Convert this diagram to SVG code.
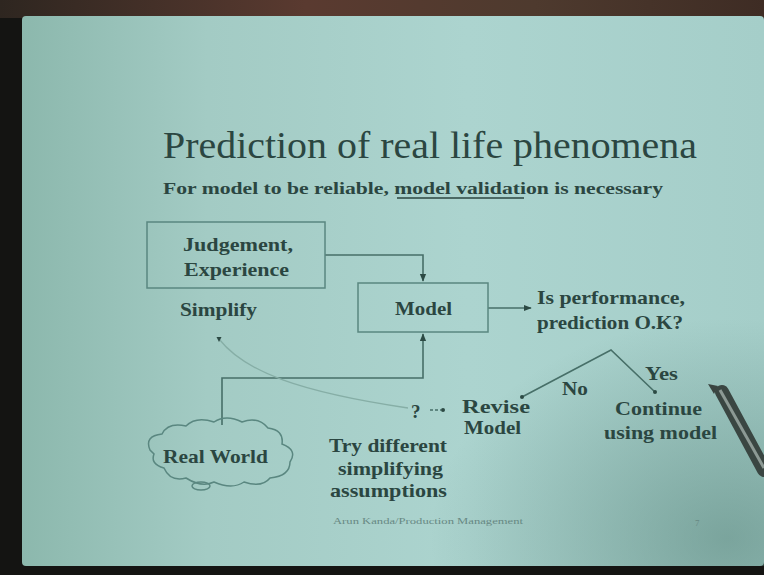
<svg xmlns="http://www.w3.org/2000/svg" width="764" height="575" viewBox="0 0 764 575">
<defs>
<linearGradient id="bg" x1="0" y1="0" x2="1" y2="0">
<stop offset="0" stop-color="#8cb8ad"/>
<stop offset="0.25" stop-color="#a3cbc4"/>
<stop offset="0.6" stop-color="#acd4cf"/>
<stop offset="1" stop-color="#a5cec9"/>
</linearGradient>
<radialGradient id="shade" cx="0.95" cy="0.95" r="0.4">
<stop offset="0" stop-color="#4f7a70" stop-opacity="0.5"/>
<stop offset="1" stop-color="#4f7a70" stop-opacity="0"/>
</radialGradient>
<linearGradient id="top" x1="0" y1="0" x2="1" y2="0">
<stop offset="0" stop-color="#2e2620"/>
<stop offset="0.4" stop-color="#5a3a30"/>
<stop offset="0.7" stop-color="#4e3a2e"/>
<stop offset="1" stop-color="#3e2c24"/>
</linearGradient>
<marker id="ah" viewBox="0 0 10 10" refX="9" refY="5" markerWidth="5" markerHeight="5" orient="auto">
<path d="M0,1 L10,5 L0,9 Z" fill="#2c4a44"/>
</marker>
<style>
text{font-family:"Liberation Serif","Times New Roman",serif;fill:#2b4641}
.b{font-weight:bold;font-size:19px}
.ln{fill:none;stroke:#476f68;stroke-width:1.6}
.bx{fill:none;stroke:#5a8780;stroke-width:1.5}
</style>
</defs>
<rect width="764" height="575" fill="#141412"/>
<rect x="0" y="0" width="764" height="18" fill="url(#top)"/>
<rect x="22" y="16" width="742" height="550" rx="4" fill="url(#bg)"/>
<rect x="22" y="16" width="742" height="550" fill="url(#shade)"/>

<text x="163" y="158" font-size="38" textLength="534" lengthAdjust="spacingAndGlyphs">Prediction of real life phenomena</text>
<text x="163" y="194" font-weight="bold" font-size="17" textLength="500" lengthAdjust="spacingAndGlyphs">For model to be reliable, model validation is necessary</text>
<line x1="397" y1="198" x2="524" y2="198" stroke="#2b4641" stroke-width="1.3"/>

<g id="connectors">
<polyline class="ln" points="325,255 423,255 423,281" marker-end="url(#ah)"/>
<polyline class="ln" points="222,425 222,378 423,378 423,334" marker-end="url(#ah)"/>
<line class="ln" x1="488" y1="308" x2="531" y2="308" marker-end="url(#ah)"/>
<polyline class="ln" points="522,397 611,350 655,392"/>
<circle cx="522" cy="397" r="2" fill="#2c4a44"/>
<circle cx="655" cy="392" r="2" fill="#2c4a44"/>
<path d="M219,339 C245,372 300,392 408,408" fill="none" stroke="#86aea6" stroke-width="1.3"/>
<line class="ln" x1="430" y1="410" x2="441" y2="410" stroke-dasharray="3,2"/>
<circle cx="443" cy="410" r="2" fill="#2c4a44"/>
<path d="M219,342 l-2.5,-5 l5,0 Z" fill="#2c4a44"/>
</g>

<g id="judgement">
<rect class="bx" x="147" y="222" width="178" height="66"/>
<text class="b" x="183" y="251" textLength="110" lengthAdjust="spacingAndGlyphs">Judgement,</text>
<text class="b" x="184" y="276" textLength="105" lengthAdjust="spacingAndGlyphs">Experience</text>
</g>
<g id="model">
<rect class="bx" x="358" y="283" width="130" height="49"/>
<text class="b" x="395" y="315" textLength="57" lengthAdjust="spacingAndGlyphs">Model</text>
</g>
<g id="simplify">
<text class="b" x="180" y="316" textLength="77" lengthAdjust="spacingAndGlyphs">Simplify</text>
</g>
<g id="realworld">
<path class="bx" d="M150,450 q-6,-14 12,-16 q6,-12 24,-8 q10,-10 28,-4 q12,-8 28,0 q16,-6 26,6 q16,2 14,16 q16,6 8,18 q0,14 -20,16 q-8,10 -26,4 q-12,8 -30,0 q-12,6 -28,-4 q-16,4 -22,-10 q-14,-4 -10,-14 z"/>
<ellipse class="bx" cx="201" cy="486" rx="9" ry="4"/>
<text class="b" x="163" y="463" textLength="105" lengthAdjust="spacingAndGlyphs">Real World</text>
</g>
<g id="question">
<text class="b" x="411" y="418">?</text>
</g>
<g id="revise">
<text class="b" x="462" y="413" textLength="68" lengthAdjust="spacingAndGlyphs">Revise</text>
<text class="b" x="464" y="434" textLength="57" lengthAdjust="spacingAndGlyphs">Model</text>
</g>
<g id="try">
<text class="b" x="329" y="452" textLength="118" lengthAdjust="spacingAndGlyphs">Try different</text>
<text class="b" x="338" y="475" textLength="105" lengthAdjust="spacingAndGlyphs">simplifying</text>
<text class="b" x="330" y="497" textLength="117" lengthAdjust="spacingAndGlyphs">assumptions</text>
</g>
<g id="performance">
<text class="b" x="537" y="304" textLength="148" lengthAdjust="spacingAndGlyphs">Is performance,</text>
<text class="b" x="537" y="329" textLength="146" lengthAdjust="spacingAndGlyphs">prediction O.K?</text>
</g>
<g id="labels">
<text class="b" x="562" y="395" textLength="26" lengthAdjust="spacingAndGlyphs">No</text>
<text class="b" x="645" y="380" textLength="33" lengthAdjust="spacingAndGlyphs">Yes</text>
</g>
<g id="continue">
<text class="b" x="615" y="415" textLength="87" lengthAdjust="spacingAndGlyphs">Continue</text>
<text class="b" x="604" y="439" textLength="113" lengthAdjust="spacingAndGlyphs">using model</text>
</g>
<text x="333" y="524" font-size="9" textLength="190" lengthAdjust="spacingAndGlyphs" style="fill:#678883">Arun Kanda/Production Management</text>
<text x="695" y="526" font-size="9" style="fill:#678883">7</text>

<g id="pen">
<line x1="722" y1="392" x2="764" y2="470" stroke="#3a4642" stroke-width="14" stroke-linecap="round"/>
<line x1="720" y1="390" x2="764" y2="468" stroke="#8c9994" stroke-width="3"/>
<path d="M708,384 L718,386 L714,394 Z" fill="#3a4440"/>
</g>
</svg>
